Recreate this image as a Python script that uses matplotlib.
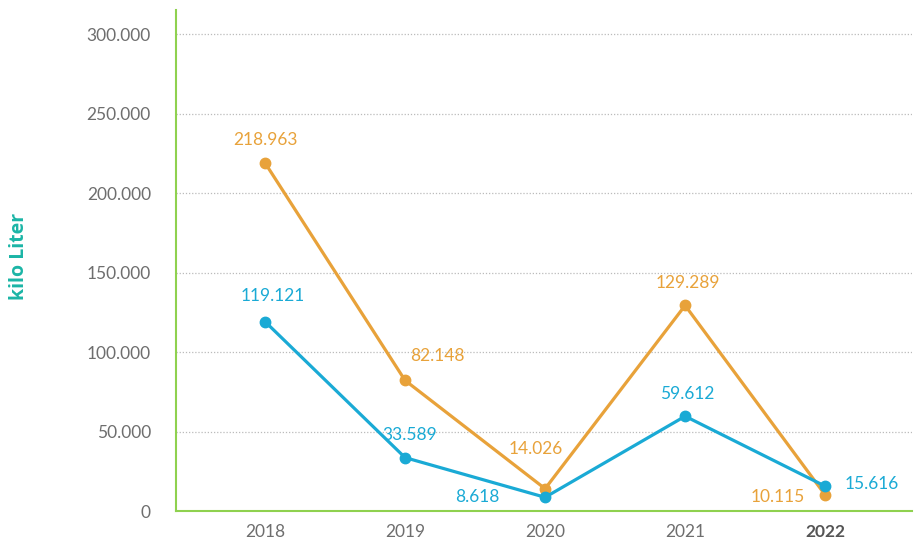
import matplotlib
matplotlib.use("Agg")
import matplotlib.pyplot as plt
from matplotlib.ticker import FuncFormatter

# Data (kilo Liter per year)
years = ["2018", "2019", "2020", "2021", "2022"]
orange_vals = [218963, 82148, 14026, 129289, 10115]
blue_vals = [119121, 33589, 8618, 59612, 15616]

# label offsets in pixels (dx, dy) relative to each marker
orange_offsets = [(0, 23), (32, 24), (-9, 40), (3, 22), (-47, -2)]
blue_offsets = [(8, 26), (5, 23), (-68, 0), (2, 22), (47, 2)]

ORANGE = "#E8A23A"
BLUE = "#1AAAD5"
GREEN = "#8FD14F"
TEAL = "#1BB5A6"
GREY = "#6E6E6E"

plt.rcParams["font.family"] = ["Lato", "DejaVu Sans"]

fig = plt.figure(figsize=(9.15, 5.47), dpi=100)
ax = fig.add_axes([0.1923, 0.0658, 0.8044, 0.9159])

x = list(range(len(years)))
ax.plot(x, orange_vals, color=ORANGE, lw=2.3, marker="o", ms=7.5, zorder=3)
ax.plot(x, blue_vals, color=BLUE, lw=2.3, marker="o", ms=7.5, zorder=4)


def fmt_num(v):
    return f"{v:,.0f}".replace(",", ".")


for xi, v, (dx, dy) in zip(x, orange_vals, orange_offsets):
    ax.annotate(fmt_num(v), (xi, v), xytext=(dx, dy), textcoords="offset pixels",
                ha="center", va="center", color=ORANGE, fontsize=12.5)
for xi, v, (dx, dy) in zip(x, blue_vals, blue_offsets):
    ax.annotate(fmt_num(v), (xi, v), xytext=(dx, dy), textcoords="offset pixels",
                ha="center", va="center", color=BLUE, fontsize=12.5)

ax.set_xlim(-0.636, 4.62)
ax.set_ylim(0, 315100)
ax.set_yticks(range(0, 300001, 50000))
ax.yaxis.set_major_formatter(FuncFormatter(lambda v, p: fmt_num(v)))
ax.set_xticks(x)
ax.set_xticklabels(years)
ax.tick_params(axis="both", length=0, labelsize=12.5, labelcolor=GREY)
ax.tick_params(axis="y", pad=18)
ax.tick_params(axis="x", pad=9)
lbl = ax.get_xticklabels()[-1]
lbl.set_fontweight("bold")
lbl.set_color("#555555")

ax.grid(axis="y", color="#BBBBBB", ls=(0, (1, 1.5)), lw=0.9)
ax.set_axisbelow(True)
for s in ("top", "right"):
    ax.spines[s].set_visible(False)
ax.spines["left"].set_color(GREEN)
ax.spines["bottom"].set_color(GREEN)
ax.spines["left"].set_linewidth(1.5)
ax.spines["bottom"].set_linewidth(1.5)

fig.text(0.0213, 0.532, "kilo Liter", rotation=90, ha="center", va="center",
         color=TEAL, fontsize=14, fontweight="bold",
         family=["Open Sans", "DejaVu Sans"])

fig.savefig("out.png", dpi=100)
